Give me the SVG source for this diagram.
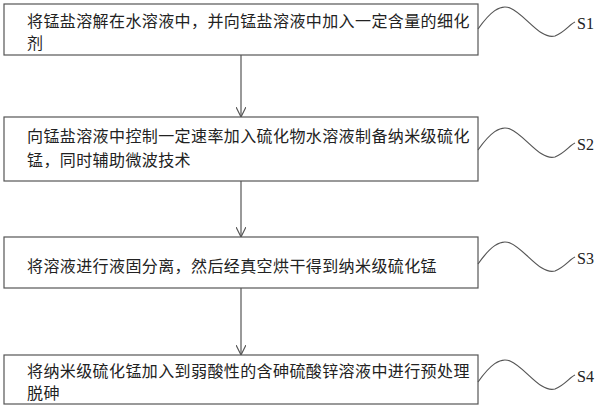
<svg xmlns="http://www.w3.org/2000/svg" width="600" height="411" viewBox="0 0 600 411">
<style>
.b{fill:#fff;stroke:#555;stroke-width:1.2}
.t{font-family:"Noto Sans CJK SC",sans-serif;font-size:16px;letter-spacing:0.4px;fill:#222}
.s{font-family:"Liberation Serif",serif;font-size:16px;fill:#222}
.c{fill:none;stroke:#555;stroke-width:1.2}
</style>
<defs><marker id="a" markerWidth="12" markerHeight="10" refX="10" refY="5" orient="auto" markerUnits="userSpaceOnUse"><path d="M0,0 L10,5 L0,10" fill="none" stroke="#555" stroke-width="1.2"/></marker></defs>
<rect width="600" height="411" fill="#fff"/>
<g id="conn">
<line class="c" x1="241" y1="55" x2="241" y2="117" marker-end="url(#a)"/>
<line class="c" x1="241" y1="181" x2="241" y2="237" marker-end="url(#a)"/>
<line class="c" x1="241" y1="288" x2="241" y2="355" marker-end="url(#a)"/>
</g>
<g id="n1"><rect class="b" x="4" y="4" width="474" height="51"/>
<text class="t" x="27" y="27">将锰盐溶解在水溶液中，并向锰盐溶液中加入一定含量的细化</text>
<text class="t" x="27" y="49">剂</text>
<path class="c" d="M478,29 C490,12 500,4 510,8 C525,14 540,40 555,36 C565,32 570,24 575,22"/><text class="s" x="577" y="29">S1</text></g>
<g id="n2"><rect class="b" x="4" y="117" width="474" height="64"/>
<text class="t" x="27" y="142">向锰盐溶液中控制一定速率加入硫化物水溶液制备纳米级硫化</text>
<text class="t" x="27" y="166">锰，同时辅助微波技术</text>
<path class="c" d="M478,150 C490,133 500,125 510,129 C525,135 540,161 555,157 C565,153 570,145 575,143"/><text class="s" x="577" y="150">S2</text></g>
<g id="n3"><rect class="b" x="4" y="237" width="474" height="51"/>
<text class="t" x="27" y="272">将溶液进行液固分离，然后经真空烘干得到纳米级硫化锰</text>
<path class="c" d="M478,264 C490,247 500,239 510,243 C525,249 540,275 555,271 C565,267 570,259 575,257"/><text class="s" x="577" y="264">S3</text></g>
<g id="n4"><rect class="b" x="4" y="355" width="474" height="49"/>
<text class="t" x="27" y="377">将纳米级硫化锰加入到弱酸性的含砷硫酸锌溶液中进行预处理</text>
<text class="t" x="27" y="399">脱砷</text>
<path class="c" d="M478,382 C490,365 500,357 510,361 C525,367 540,393 555,389 C565,385 570,377 575,375"/><text class="s" x="577" y="382">S4</text></g>
</svg>
